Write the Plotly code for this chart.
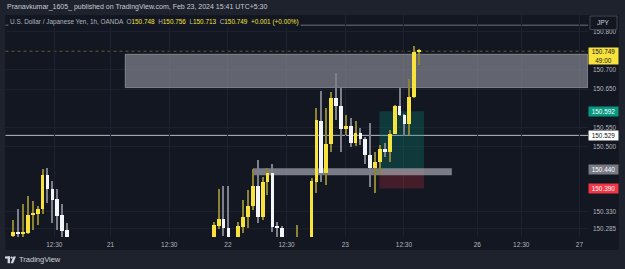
import plotly.graph_objects as go

# ---------------- data ----------------
bar_index = [0, 1, 2, 3, 4, 5, 6, 7, 8, 9, 10, 11,
             41, 42, 43, 44, 46, 47, 48, 49, 50, 51, 52, 53, 54, 55, 58,
             61, 62, 63, 64, 65, 66, 67, 68, 69, 70, 71, 72, 73, 74, 75, 76,
             77, 78, 79, 80, 81, 82, 83]
opens = [150.266, 150.277, 150.273, 150.275, 150.322, 150.323, 150.336, 150.425, 150.389, 150.362, 150.320, 150.282,
         150.255, 150.292, 150.310, 150.288, 150.255, 150.290, 150.315, 150.344, 150.397, 150.315, 150.408, 150.430, 150.292, 150.286, 150.240,
         150.250, 150.408, 150.567, 150.430, 150.506, 150.628, 150.607, 150.546, 150.553, 150.508, 150.536, 150.519, 150.479, 150.443, 150.460, 150.493,
         150.485, 150.533, 150.607, 150.582, 150.559, 150.630, 150.748]
highs = [150.308, 150.336, 150.350, 150.371, 150.358, 150.344, 150.441, 150.443, 150.411, 150.389, 150.350, 150.300,
         150.303, 150.389, 150.397, 150.397, 150.303, 150.360, 150.386, 150.440, 150.465, 150.421, 150.443, 150.454, 150.303, 150.292, 150.294,
         150.417, 150.600, 150.645, 150.601, 150.642, 150.693, 150.654, 150.582, 150.575, 150.567, 150.547, 150.525, 150.562, 150.486, 150.504, 150.510,
         150.543, 150.608, 150.652, 150.585, 150.676, 150.763, 150.756]
lows = [150.250, 150.250, 150.262, 150.270, 150.282, 150.295, 150.323, 150.351, 150.300, 150.282, 150.255, 150.250,
        150.240, 150.283, 150.266, 150.250, 150.245, 150.275, 150.286, 150.334, 150.299, 150.308, 150.373, 150.277, 150.250, 150.245, 150.230,
        150.240, 150.378, 150.408, 150.399, 150.486, 150.569, 150.486, 150.530, 150.498, 150.501, 150.504, 150.455, 150.395, 150.378, 150.425, 150.473,
        150.460, 150.533, 150.580, 150.528, 150.530, 150.628, 150.713]
closes = [150.276, 150.271, 150.277, 150.322, 150.324, 150.337, 150.425, 150.389, 150.360, 150.318, 150.280, 150.262,
          150.294, 150.310, 150.288, 150.260, 150.292, 150.316, 150.344, 150.397, 150.315, 150.408, 150.430, 150.290, 150.286, 150.262, 150.255,
          150.410, 150.569, 150.430, 150.506, 150.628, 150.607, 150.546, 150.553, 150.508, 150.536, 150.519, 150.479, 150.443, 150.460, 150.493, 150.486,
          150.533, 150.607, 150.582, 150.559, 150.630, 150.748, 150.749]

time_tick_pos = [8.5, 20, 32, 44, 56, 68, 80, 95, 104, 115.9]
time_tick_text = ["12:30", "21", "12:30", "22", "12:30", "23", "12:30", "26", "12:30", "27"]
price_tick_vals = [150.800, 150.700, 150.650, 150.550, 150.500, 150.330, 150.285]
price_tick_text = ["150.800", "150.700", "150.650", "150.550", "150.500", "150.330", "150.285"]

last_price = 150.749
countdown = "49:00"
supply_zone = [150.654, 150.741]
supply_start = 23.0
demand_zone = [150.425, 150.443]
demand_span = [49.1, 89.8]
long_entry, long_target, long_stop = 150.440, 150.592, 150.390
long_span = [75.0, 84.1]
hline_level = 150.529
top_line_level = 150.817

# ---------------- styling ----------------
W, H = 625, 269
PX0, PX1 = 5.5, 588.0     # plot area left/right (px)
PY0, PY1 = 15.0, 237.0    # plot area top/bottom (px)
XR = [-1.493, 117.65]
YR = [150.2633, 150.8437]
BG = "#131722"
FRAME = "#1e222d"
YEL = "#f7e23e"
WHT = "#f4f5f8"
YEL_WICK = "#8c8434"
WHT_WICK = "#7d808a"
TXT = "#b2b5be"
FONT = "Liberation Sans, Arial, sans-serif"

def px(x):
    return x / W

def py(y):
    return 1 - y / H

up = [c >= o for o, c in zip(opens, closes)]
body_base = [min(o, c) for o, c in zip(opens, closes)]
body_h = [max(abs(c - o), 0.002) for o, c in zip(opens, closes)]
wick_h = [h - l for h, l in zip(highs, lows)]
body_col = [YEL if u else WHT for u in up]
wick_col = [YEL_WICK if u else WHT_WICK for u in up]

fig = go.Figure()
fig.add_trace(go.Bar(x=bar_index, y=wick_h, base=lows, width=0.22,
                     marker=dict(color=wick_col, line=dict(width=0)), hoverinfo="skip"))
fig.add_trace(go.Bar(x=bar_index, y=body_h, base=body_base, width=0.76,
                     marker=dict(color=body_col, line=dict(width=0)), hoverinfo="skip"))

shapes = []
# panel background (plot + axes)
shapes.append(dict(type="rect", xref="paper", yref="paper", x0=px(PX0), x1=px(619), y0=py(250), y1=py(PY0),
                   fillcolor=BG, line=dict(width=0), layer="below"))
# zones (between grid and candles)
shapes.append(dict(type="rect", xref="x", yref="y", x0=supply_start, x1=XR[1], y0=supply_zone[0], y1=supply_zone[1],
                   fillcolor="rgba(140,143,152,0.66)", line=dict(color="rgba(170,173,180,0.6)", width=1), layer="between"))
shapes.append(dict(type="rect", xref="x", yref="y", x0=long_span[0], x1=long_span[1], y0=long_entry, y1=long_target,
                   fillcolor="rgba(8,153,129,0.27)", line=dict(width=0), layer="between"))
shapes.append(dict(type="rect", xref="x", yref="y", x0=long_span[0], x1=long_span[1], y0=long_stop, y1=long_entry,
                   fillcolor="rgba(242,54,69,0.22)", line=dict(width=0), layer="between"))
shapes.append(dict(type="rect", xref="x", yref="y", x0=demand_span[0], x1=demand_span[1], y0=demand_zone[0], y1=demand_zone[1],
                   fillcolor="rgba(170,173,182,0.68)", line=dict(width=0), layer="between"))
# horizontal lines
shapes.append(dict(type="line", xref="paper", yref="y", x0=px(PX0), x1=px(PX1), y0=hline_level, y1=hline_level,
                   line=dict(color="#b8bbc3", width=1), layer="between"))
shapes.append(dict(type="line", xref="paper", yref="y", x0=px(PX0), x1=px(PX1), y0=top_line_level, y1=top_line_level,
                   line=dict(color="#50535e", width=1.5), layer="between"))
shapes.append(dict(type="line", xref="paper", yref="y", x0=px(PX0), x1=px(PX1), y0=last_price, y1=last_price,
                   line=dict(color="rgba(247,226,62,0.35)", width=1, dash="dot"), layer="between"))
# JPY box
shapes.append(dict(type="rect", xref="paper", yref="paper", x0=px(590), x1=px(617), y0=py(29.5), y1=py(16),
                   fillcolor=BG, line=dict(color="#434651", width=1)))
# TradingView logo
shapes.append(dict(type="rect", xref="paper", yref="paper", x0=px(5), x1=px(10), y0=py(258.6), y1=py(256.4),
                   fillcolor="#d1d4dc", line=dict(width=0)))
shapes.append(dict(type="rect", xref="paper", yref="paper", x0=px(7.6), x1=px(10), y0=py(263.2), y1=py(256.4),
                   fillcolor="#d1d4dc", line=dict(width=0)))
shapes.append(dict(type="circle", xref="paper", yref="paper", x0=px(10.6), x1=px(12.8), y0=py(258.8), y1=py(256.4),
                   fillcolor="#d1d4dc", line=dict(width=0)))
shapes.append(dict(type="path", xref="paper", yref="paper",
                   path=f"M {px(13.4)},{py(256.4)} L {px(16)},{py(256.4)} L {px(13.2)},{py(263.2)} L {px(10.6)},{py(263.2)} Z",
                   fillcolor="#d1d4dc", line=dict(width=0)))

ann = []
ann.append(dict(xref="paper", yref="paper", x=px(5), y=py(7.2), xanchor="left", yanchor="middle", showarrow=False,
                text="Pranavkumar_1605_ published on TradingView.com, Feb 23, 2024 15:41 UTC+5:30",
                font=dict(family=FONT, size=7, color="#c8cbd3")))
leg = ("U.S. Dollar / Japanese Yen, 1h, OANDA  "
       f"O<span style='color:{YEL}'>150.748</span>  H<span style='color:{YEL}'>150.756</span>  "
       f"L<span style='color:{YEL}'>150.713</span>  C<span style='color:{YEL}'>150.749</span>  "
       f"<span style='color:{YEL}'>+0.001 (+0.00%)</span>")
ann.append(dict(xref="paper", yref="paper", x=px(8), y=py(22.3), xanchor="left", yanchor="middle", showarrow=False,
                text=leg, bgcolor=BG, borderpad=1, font=dict(family=FONT, size=6.4, color=TXT)))
ann.append(dict(xref="paper", yref="paper", x=px(603.5), y=py(22.7), xanchor="center", yanchor="middle", showarrow=False,
                text="JPY", font=dict(family=FONT, size=6.5, color="#d1d4dc")))
ann.append(dict(xref="paper", yref="paper", x=px(16.5), y=py(259.8), xanchor="left", yanchor="middle", showarrow=False,
                text="TradingView", font=dict(family=FONT, size=7.5, color="#d1d4dc")))

def price_label(val, text, bg, fg, lines=1):
    d = dict(xref="paper", yref="y", x=px(588.3), y=val, xanchor="left", showarrow=False,
             text=text, bgcolor=bg, font=dict(family=FONT, size=6.4, color=fg),
             width=27, borderpad=1, align="center")
    if lines == 1:
        d["yanchor"] = "middle"
        d["height"] = 6.5
    else:
        d["yanchor"] = "top"
        d["yshift"] = 4
        d["height"] = 14
    return d

ann.append(price_label(last_price, f"{last_price:.3f}<br>{countdown}", YEL, "#131722", lines=2))
ann.append(price_label(long_target, f"{long_target:.3f}", "#089981", "#ffffff"))
ann.append(price_label(hline_level, f"{hline_level:.3f}", "#ffffff", "#131722"))
ann.append(price_label(long_entry, f"{long_entry:.3f}", "#787b86", "#ffffff"))
ann.append(price_label(long_stop, f"{long_stop:.3f}", "#f23645", "#ffffff"))

fig.update_layout(
    width=W, height=H, margin=dict(l=0, r=0, t=0, b=0),
    paper_bgcolor=FRAME, plot_bgcolor=BG,
    barmode="overlay", bargap=0, showlegend=False,
    shapes=shapes, annotations=ann,
    xaxis=dict(domain=[px(PX0), px(PX1)], range=XR, tickmode="array", tickvals=time_tick_pos, ticktext=time_tick_text,
               showgrid=True, gridcolor="#1c2030", gridwidth=1, zeroline=False, showline=False, ticks="",
               tickfont=dict(family=FONT, size=6.5, color=TXT), ticklabelstandoff=2, fixedrange=True),
    yaxis=dict(domain=[py(PY1), py(PY0)], range=YR, side="right", tickmode="array", tickvals=price_tick_vals,
               ticktext=price_tick_text, showgrid=True, gridcolor="#1c2030", gridwidth=1, zeroline=False,
               showline=False, ticks="", tickfont=dict(family=FONT, size=6.4, color=TXT), ticklabelstandoff=4,
               fixedrange=True),
)

fig.write_html("out.html", config={"displayModeBar": False})
